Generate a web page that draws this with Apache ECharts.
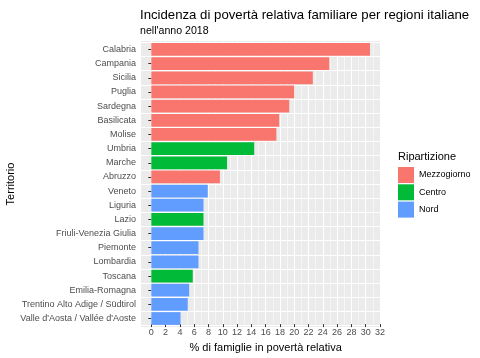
<!DOCTYPE html>
<html><head><meta charset="utf-8">
<script src="https://cdn.jsdelivr.net/npm/echarts@6/dist/echarts.min.js"></script>
<style>html,body{margin:0;padding:0;background:#fff}#c{width:480px;height:358px}</style>
</head><body><div id="c"></div>
<script>
const categories = ["Calabria","Campania","Sicilia","Puglia","Sardegna","Basilicata","Molise","Umbria","Marche","Abruzzo","Veneto","Liguria","Lazio","Friuli-Venezia Giulia","Piemonte","Lombardia","Toscana","Emilia-Romagna","Trentino Alto Adige / Südtirol","Valle d'Aosta / Vallée d'Aoste"];
const values = [30.6,24.9,22.6,20.0,19.3,17.9,17.5,14.4,10.6,9.6,7.9,7.3,7.3,7.3,6.6,6.6,5.8,5.3,5.1,4.1];
const groups = ["Mezzogiorno","Mezzogiorno","Mezzogiorno","Mezzogiorno","Mezzogiorno","Mezzogiorno","Mezzogiorno","Centro","Centro","Mezzogiorno","Nord","Nord","Centro","Nord","Nord","Nord","Centro","Nord","Nord","Nord"];
const groupNames = ["Mezzogiorno","Centro","Nord"];
const groupColors = ["#F8766D","#00BA38","#619CFF"];

const font = "Liberation Sans";
const series = groupNames.map((g,i)=>({
  name: g, type: 'bar', stack: 'all', xAxisIndex: 1, yAxisIndex: 1,
  barWidth: '90%', itemStyle: {color: groupColors[i]},
  data: values.map((v,j)=> groups[j]===g ? v : '-')
}));
series.push({type:'bar', xAxisIndex:0, yAxisIndex:0, data:[], silent:true});

const chart = echarts.init(document.getElementById('c'), null, {renderer:'canvas'});
chart.setOption({
  animation: false,
  textStyle: {fontFamily: font},
  title: {
    text: 'Incidenza di povertà relativa familiare per regioni italiane',
    subtext: "nell'anno 2018",
    left: 135, top: 4, itemGap: 4,
    textStyle: {fontFamily: font, fontSize: 13.2, fontWeight: 'normal', color: '#000'},
    subtextStyle: {fontFamily: font, fontSize: 10.6, color: '#000'}
  },
  graphic: [
    {type:'rect', z:-10, silent:true, shape:{x:141,y:41,width:240,height:286}, style:{fill:'#EBEBEB'}},
    {type:'text', left: 398, top: 151, style:{text:'Ripartizione', fontFamily: font, fontSize: 11, fill:'#000'}}
  ],
  legend: {
    data: groupNames, orient: 'vertical', left: 398, top: 167, padding: 0,
    icon: 'rect', itemWidth: 16, itemHeight: 16, itemGap: 1.3,
    textStyle: {fontFamily: font, fontSize: 9, color: '#000'}
  },
  grid: [
    {left: 151.3, width: 228.7, top: 41, height: 286, containLabel: false},
    {left: 141, width: 240, top: 42.4, height: 283.2, containLabel: false}
  ],
  xAxis: [
    {gridIndex:0, type:'value', min:0, max:32, interval:2,
     axisLine:{show:false},
     axisTick:{show:true, length:3, lineStyle:{color:'#333'}},
     axisLabel:{color:'#4D4D4D', fontSize:9, margin:4, fontFamily: font},
     splitLine:{show:true, lineStyle:{color:'#fff', width:1}},
     minorTick:{show:false, splitNumber:2},
     minorSplitLine:{show:true, lineStyle:{color:'#fff', width:0.5}},
     name:'% di famiglie in povertà relativa', nameLocation:'middle', nameGap:16,
     nameTextStyle:{fontFamily: font, fontSize:11, color:'#000'}},
    {gridIndex:1, type:'value', min:-1.4412, max:32.14, show:false}
  ],
  yAxis: [
    {gridIndex:0, type:'value', show:false},
    {gridIndex:1, type:'category', inverse:true, data: categories,
     axisLine:{show:false},
     axisTick:{show:true, length:3, alignWithLabel:true, lineStyle:{color:'#333'}},
     axisLabel:{color:'#4D4D4D', fontSize:9, margin:5, fontFamily: font},
     splitLine:{show:true, interval:0, lineStyle:{color:'#fff', width:1}},
     name:'Territorio', nameLocation:'middle', nameRotate:90, nameGap:123,
     nameTextStyle:{fontFamily: font, fontSize:11, color:'#000'}}
  ],
  series: series
});
</script></body></html>
